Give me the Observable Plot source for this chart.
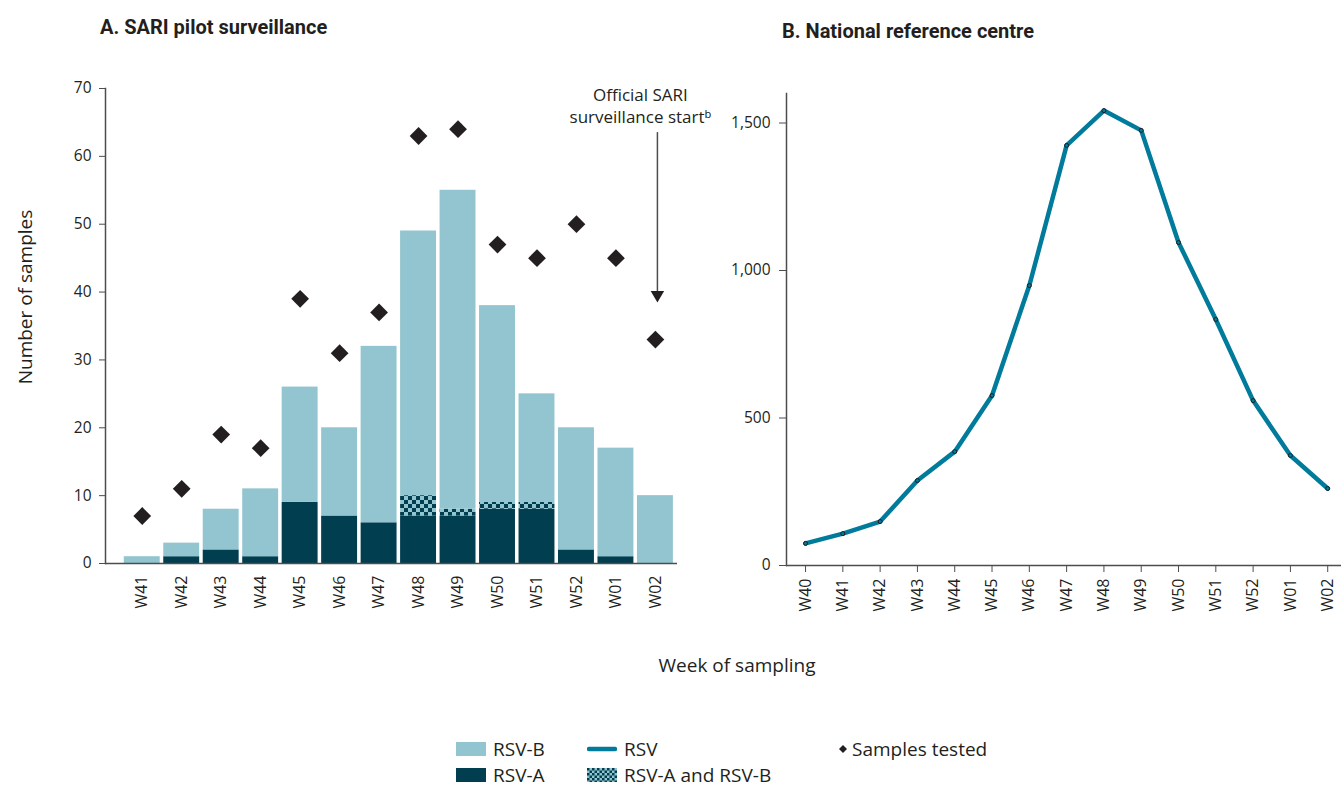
<!DOCTYPE html>
<html>
<head>
<meta charset="utf-8">
<script src="https://cdn.jsdelivr.net/npm/d3@7"></script>
<script src="https://cdn.jsdelivr.net/npm/@observablehq/plot@0.6"></script>
<style>
  html, body { margin: 0; padding: 0; background: #fff; }
  #root { position: relative; width: 1341px; height: 787px; overflow: hidden; font-family: "Open Sans", "Noto Sans", sans-serif; color: #231f20; }
  .abs { position: absolute; }
  .title { font-family: Roboto, "Open Sans", sans-serif; font-weight: 700; font-size: 20px; white-space: nowrap; }
  .axlab { font-size: 19px; white-space: nowrap; }
  .leg { position: absolute; font-size: 19px; white-space: nowrap; display: flex; align-items: center; height: 22px; line-height: 22px; }
  .leg svg { margin-right: 7px; }
</style>
</head>
<body>
<svg width="0" height="0" style="position:absolute">
  <defs>
    <pattern id="chk" width="8" height="8" patternUnits="userSpaceOnUse">
      <rect width="8" height="8" fill="#92c5cf"></rect>
      <rect x="0" y="0" width="4" height="4" fill="#003e50"></rect>
      <rect x="4" y="4" width="4" height="4" fill="#003e50"></rect>
    </pattern>
    <pattern id="chkSmall" width="5" height="5" patternUnits="userSpaceOnUse">
      <rect width="5" height="5" fill="#92c5cf"></rect>
      <rect x="0" y="0" width="2.5" height="2.5" fill="#003e50"></rect>
      <rect x="2.5" y="2.5" width="2.5" height="2.5" fill="#003e50"></rect>
    </pattern>
  </defs>
</svg>
<div id="root"></div>
<script>
// ---------- Data: panel A (SARI pilot surveillance) ----------
const weeksA = ["W41","W42","W43","W44","W45","W46","W47","W48","W49","W50","W51","W52","W01","W02"];
const rsvA   = [0, 1, 2, 1, 9, 7, 6, 7, 7, 8, 8, 2, 1, 0];
const rsvAB  = [0, 0, 0, 0, 0, 0, 0, 3, 1, 1, 1, 0, 0, 0];
const rsvB   = [1, 2, 6, 10, 17, 13, 26, 39, 47, 29, 16, 18, 16, 10];
const samplesTested = [7, 11, 19, 17, 39, 31, 37, 63, 64, 47, 45, 50, 45, 33];
const yTicksA = [0, 10, 20, 30, 40, 50, 60, 70];

// annotation
const annotWeek = ["W02"];
const annotText = ["Official SARI\nsurveillance start\u1D47"];
const annotTop = [63.5];
const annotTip = [39.6];

// ---------- Data: panel B (National reference centre) ----------
const weeksB = ["W40","W41","W42","W43","W44","W45","W46","W47","W48","W49","W50","W51","W52","W01","W02"];
const nrcRSV = [75, 108, 149, 288, 386, 576, 949, 1424, 1542, 1475, 1095, 834, 559, 373, 261];
const yTicksB = [0, 500, 1000, 1500];

const series = ["RSV-A", "RSV-A and RSV-B", "RSV-B"];
const seriesFill = ["#003e50", "url(#chk)", "#92c5cf"];

const barsData = [];
weeksA.forEach((w, i) => {
  barsData.push({week: w, type: series[0], n: rsvA[i]});
  barsData.push({week: w, type: series[1], n: rsvAB[i]});
  barsData.push({week: w, type: series[2], n: rsvB[i]});
});
const testedData = weeksA.map((w, i) => ({week: w, n: samplesTested[i]}));
const nrcData = weeksB.map((w, i) => ({week: w, n: nrcRSV[i]}));

const root = document.getElementById("root");
const axisColor = "#4d4d4d";
const textColor = "#231f20";

// ---------- Panel A ----------
const plotA = Plot.plot({
  width: 720,
  height: 640,
  marginTop: 88,
  marginBottom: 77,
  marginLeft: 105,
  marginRight: 43,
  style: {background: "transparent", fontFamily: "'Open Sans', 'Noto Sans', sans-serif", color: textColor, overflow: "visible"},
  x: {domain: weeksA, paddingInner: 0.09, paddingOuter: 0.29, align: 0.82, round: false},
  y: {domain: [0, 70]},
  color: {domain: series, range: seriesFill},
  marks: [
    Plot.barY(barsData, {x: "week", y: "n", fill: "type", order: series}),
    Plot.ruleY([0], {stroke: axisColor, strokeWidth: 1.5}),
    Plot.frame({anchor: "left", stroke: axisColor, strokeWidth: 1.5}),
    Plot.axisY({ticks: yTicksA, tickSize: 6, tickPadding: 8, fontSize: 15.5, stroke: axisColor, label: null}),
    Plot.axisX({tickSize: 0, tickPadding: 12, tickRotate: -90, fontSize: 16, label: null}),
    Plot.dot(testedData, {x: "week", y: "n", symbol: "diamond2", r: 8, fill: textColor, stroke: "none"}),
    Plot.ruleX(annotWeek, {x: d => d, y1: annotTop, y2: annotTip, stroke: axisColor, strokeWidth: 1.5, dx: 2}),
    Plot.dot(annotWeek, {x: d => d, y: annotTip, symbol: "triangle", rotate: 180, r: 5, fill: textColor, dx: 2}),
    Plot.text(annotText, {x: annotWeek, y: [67.6], text: d => d, fontSize: 17, lineHeight: 1.3, dx: -15, fill: textColor})
  ]
});
plotA.classList.add("abs");
plotA.style.left = "0px";
plotA.style.top = "0px";
root.appendChild(plotA);

// ---------- Panel B ----------
const plotB = Plot.plot({
  width: 641,
  height: 640,
  marginTop: 93,
  marginBottom: 75,
  marginLeft: 86,
  marginRight: 0,
  style: {background: "transparent", fontFamily: "'Open Sans', 'Noto Sans', sans-serif", color: textColor, overflow: "visible"},
  x: {type: "point", domain: weeksB, padding: 0.44, align: 0.58, round: false},
  y: {domain: [0, 1600]},
  marks: [
    Plot.ruleY([0], {stroke: axisColor, strokeWidth: 1.5}),
    Plot.frame({anchor: "left", stroke: axisColor, strokeWidth: 1.5}),
    Plot.axisY({ticks: yTicksB, tickFormat: d3.format(","), tickSize: 7, tickPadding: 9, fontSize: 15.5, stroke: axisColor, label: null}),
    Plot.axisX({tickSize: 7, tickPadding: 6, tickRotate: -90, fontSize: 16, stroke: axisColor, label: null}),
    Plot.line(nrcData, {x: "week", y: "n", stroke: "#007b9b", strokeWidth: 4.5, strokeLinejoin: "round", strokeLinecap: "round"}),
    Plot.dot(nrcData, {x: "week", y: "n", r: 2, stroke: "#1a1a1a", strokeWidth: 1, fill: "#007b9b"})
  ]
});
plotB.classList.add("abs");
plotB.style.left = "700px";
plotB.style.top = "0px";
root.appendChild(plotB);

// ---------- Titles & axis labels ----------
function addDiv(cls, text, css) {
  const d = document.createElement("div");
  d.className = "abs " + cls;
  d.textContent = text;
  Object.assign(d.style, css);
  root.appendChild(d);
  return d;
}
addDiv("title", "A. SARI pilot surveillance", {left: "100px", top: "15px"});
addDiv("title", "B. National reference centre", {left: "782px", top: "19px"});
addDiv("axlab", "Week of sampling", {left: "737px", top: "652px", transform: "translateX(-50%)"});
addDiv("axlab", "Number of samples", {left: "25px", top: "297px", transform: "translate(-50%, -50%) rotate(-90deg)"});

// ---------- Legend ----------
const legendItems = [
  {label: "RSV-B", kind: "rect", fill: "#92c5cf", left: 456, top: 738},
  {label: "RSV-A", kind: "rect", fill: "#003e50", left: 456, top: 764},
  {label: "RSV", kind: "line", fill: "#007b9b", left: 587, top: 738},
  {label: "RSV-A and RSV-B", kind: "rect", fill: "url(#chkSmall)", left: 587, top: 764},
  {label: "Samples tested", kind: "diamond", fill: textColor, left: 838, top: 738}
];
legendItems.forEach(it => {
  const d = document.createElement("div");
  d.className = "leg";
  d.style.left = it.left + "px";
  d.style.top = it.top + "px";
  let sw;
  if (it.kind === "rect") sw = `<svg width="30" height="14"><rect width="30" height="14" fill="${it.fill}"/></svg>`;
  else if (it.kind === "line") sw = `<svg width="30" height="14"><line x1="2" y1="7" x2="28" y2="7" stroke="${it.fill}" stroke-width="4.5" stroke-linecap="round"/></svg>`;
  else sw = `<svg width="10" height="14" style="margin-right:4px"><path d="M5,3L9,7L5,11L1,7Z" fill="${it.fill}"/></svg>`;
  d.innerHTML = sw + `<span>${it.label}</span>`;
  root.appendChild(d);
});
</script>
</body>
</html>
